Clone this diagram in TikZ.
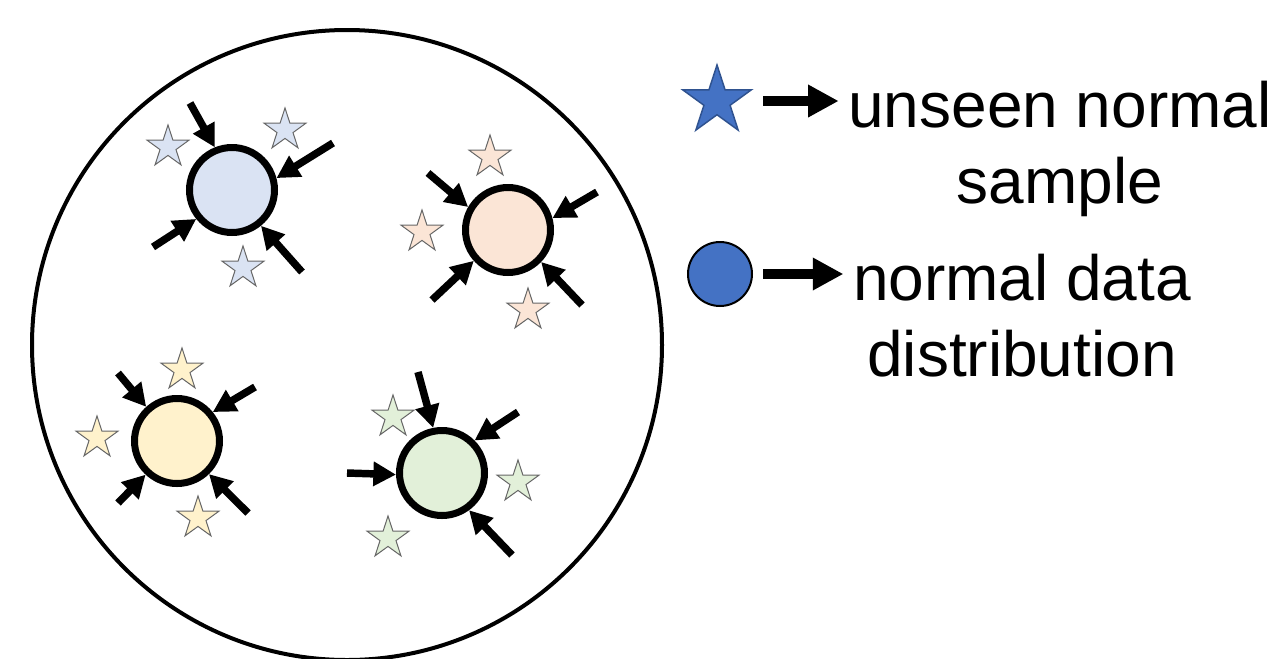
\documentclass[tikz,border=0pt]{standalone}
\usepackage{fontspec}
\setmainfont{Liberation Sans}
\usetikzlibrary{arrows.meta,shapes.geometric}
\definecolor{cblue}{HTML}{DAE3F3}
\definecolor{cpeach}{HTML}{FBE5D6}
\definecolor{cyellow}{HTML}{FFF2CC}
\definecolor{cgreen}{HTML}{E2F0D9}
\definecolor{lblue}{HTML}{4472C4}
\definecolor{lbluedark}{HTML}{2F528F}
\begin{document}
\begin{tikzpicture}[x=0.75pt,y=-0.75pt,
  dot/.style={circle,draw=black,line width=5.25pt,minimum size=63.75pt,inner sep=0pt},
  smp/.style={star,star points=5,star point ratio=2.618,draw=black!60,line width=0.75pt,minimum size=33pt,inner sep=0pt},
  pull/.style={line width=5.6pt,-{Triangle[length=17pt,width=17.5pt]}},
  legarrow/.style={line width=7.5pt,-{Triangle[length=23pt,width=23pt]}},
  lbl/.style={font=\fontsize{48}{57}\selectfont,inner sep=0pt,anchor=base}]
\useasboundingbox (0,0) rectangle (1279,658);
% big space
\node[circle,draw=black,line width=3pt,minimum size=472.5pt,inner sep=0pt] (space) at (347,345) {};
% ---------- blue cluster
\node[dot,fill=cblue] (B) at (232,190) {};
\node[smp,fill=cblue] (bs1) at (168,147) {};
\node[smp,fill=cblue] (bs2) at (285,130) {};
\node[smp,fill=cblue] (bs3) at (243,268) {};
\coordinate (bt1) at (190,103);
\coordinate (bt2) at (333,143);
\coordinate (bt3) at (153,247);
\coordinate (bt4) at (302,272);
\draw[pull] (bt1) -- (B.112);
\draw[pull] (bt2) -- (B.15);
\draw[pull] (bt3) -- (B.219);
\draw[pull] (bt4) -- (B.309);
% ---------- peach cluster
\node[dot,fill=cpeach] (P) at (508,230) {};
\node[smp,fill=cpeach] (ps1) at (490,157) {};
\node[smp,fill=cpeach] (ps2) at (422,232) {};
\node[smp,fill=cpeach] (ps3) at (528,310) {};
\coordinate (pt1) at (428,173);
\coordinate (pt2) at (597,192);
\coordinate (pt3) at (432,300);
\coordinate (pt4) at (582,305);
\draw[pull] (pt1) -- (P.150);
\draw[pull] (pt2) -- (P.15);
\draw[pull] (pt3) -- (P.222);
\draw[pull] (pt4) -- (P.316);
% ---------- yellow cluster
\node[dot,fill=cyellow] (Y) at (177,441) {};
\node[smp,fill=cyellow] (ys1) at (182,370) {};
\node[smp,fill=cyellow] (ys2) at (97,438) {};
\node[smp,fill=cyellow] (ys3) at (198,518) {};
\coordinate (yt1) at (118,373);
\coordinate (yt2) at (255,387);
\coordinate (yt3) at (118,503);
\coordinate (yt4) at (248,513);
\draw[pull] (yt1) -- (Y.132);
\draw[pull] (yt2) -- (Y.39);
\draw[pull] (yt3) -- (Y.227);
\draw[pull] (yt4) -- (Y.314);
% ---------- green cluster
\node[dot,fill=cgreen] (G) at (442,473) {};
\node[smp,fill=cgreen] (gs1) at (393,417) {};
\node[smp,fill=cgreen] (gs2) at (518,482) {};
\node[smp,fill=cgreen] (gs3) at (388,538) {};
\coordinate (gt1) at (418,372);
\coordinate (gt2) at (518,412);
\coordinate (gt3) at (347,473);
\coordinate (gt4) at (512,555);
\draw[pull] (gt1) -- (G.101);
\draw[pull] (gt2) -- (G.45);
\draw[pull] (gt3) -- (G.182);
\draw[pull] (gt4) -- (G.306);
% ---------- legend
\node[star,star points=5,star point ratio=2.618,draw=lbluedark,line width=1.1pt,fill=lblue,minimum size=54pt,inner sep=0pt] (ls) at (717,101) {};
\node[circle,draw=black,line width=1.5pt,fill=lblue,minimum size=48pt,inner sep=0pt] (lc) at (720,274) {};
\node[lbl] (t1) at (1060,127) {unseen normal};
\node[lbl] (t1b) at (1060,203) {sample};
\node[lbl] (t2) at (1022,300) {normal data};
\node[lbl] (t2b) at (1022,376) {distribution};
\draw[legarrow,shorten <=34.5pt,shorten >=7pt] (ls.center) -- (ls.center -| t1.west);
\draw[legarrow,shorten <=32.25pt,shorten >=7pt] (lc.center) -- (lc.center -| t2.west);
\end{tikzpicture}
\end{document}
